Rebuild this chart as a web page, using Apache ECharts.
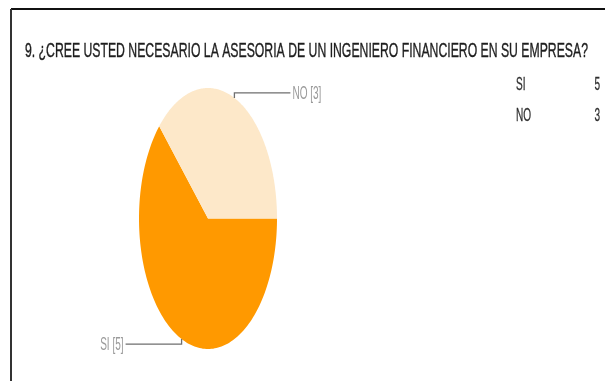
<!DOCTYPE html>
<html>
<head>
<meta charset="utf-8">
<script src="https://cdn.jsdelivr.net/npm/echarts@6/dist/echarts.min.js"></script>
<style>
  html, body { margin: 0; padding: 0; background: #ffffff; }
  #chart { width: 605px; height: 381px; }
</style>
</head>
<body>
<div id="chart"></div>
<script>
// Survey question and answers
const titleText = '9. ¿CREE USTED NECESARIO LA ASESORIA DE UN INGENIERO FINANCIERO EN SU EMPRESA?';
const categories = ['SI', 'NO'];
const counts = [5, 3];
const sliceColors = ['#ff9900', '#fde8c9'];

const chart = echarts.init(document.getElementById('chart'), null, { renderer: 'canvas' });

// Narrow lettering: measure the text and squeeze it horizontally to a width
const measureCtx = document.createElement('canvas').getContext('2d');
function squeeze(text, font, width) {
  measureCtx.font = font;
  return width / measureCtx.measureText(text).width;
}

const FONT_TITLE = '21px "Liberation Sans", Arial, sans-serif';
const FONT_TABLE = '19px "Liberation Sans", Arial, sans-serif';
const FONT_LABEL = '18px "Liberation Sans", Arial, sans-serif';
const NARROW_TABLE = squeeze('SI', FONT_TABLE, 9.5);
const NARROW_LABEL = squeeze('NO [3]', FONT_LABEL, 29);

// Slice angles: start at 3 o'clock and run clockwise
const total = counts.reduce((a, b) => a + b, 0);
const sliceData = [];
let angle = 0;
categories.forEach((name, i) => {
  const sweep = counts[i] / total * Math.PI * 2;
  sliceData.push([i, angle, angle - sweep]);
  angle -= sweep;
});

function renderSlice(params, api) {
  const i = api.value(0);
  const a0 = api.value(1);
  const a1 = api.value(2);
  const pts = [api.coord([0, 0])];
  const steps = 160;
  for (let k = 0; k <= steps; k++) {
    const t = a0 + (a1 - a0) * k / steps;
    pts.push(api.coord([Math.cos(t), Math.sin(t)]));
  }
  // leader line from the middle of the slice edge
  const m = (a0 + a1) / 2;
  const p0 = api.coord([Math.cos(m), Math.sin(m)]);
  const side = Math.cos(m) >= 0 ? 1 : -1;
  const vert = Math.sin(m) >= 0 ? -1 : 1;
  const p1 = [p0[0], p0[1] + vert * 5];
  const p2 = [p1[0] + side * 56, p1[1]];
  const label = categories[i] + ' [' + counts[i] + ']';
  return {
    type: 'group',
    children: [
      {
        type: 'polygon',
        shape: { points: pts },
        style: { fill: sliceColors[i], stroke: null }
      },
      {
        type: 'polyline',
        shape: { points: [p0, p1, p2] },
        style: { stroke: '#6f6f6f', lineWidth: 1.3, fill: null }
      },
      {
        type: 'text',
        x: p2[0] + side * 2,
        y: p2[1] + 1,
        scaleX: NARROW_LABEL,
        style: {
          text: label,
          font: FONT_LABEL,
          fill: '#9a9a9a',
          align: side > 0 ? 'left' : 'right',
          verticalAlign: 'middle'
        }
      }
    ]
  };
}

// Answer table on the right
const tableGraphics = [];
categories.forEach((name, i) => {
  const y = 85 + i * 31;
  tableGraphics.push({
    type: 'text', x: 516, y: y, scaleX: NARROW_TABLE,
    style: { text: name, font: FONT_TABLE, fill: '#2e2e2e', stroke: '#2e2e2e', lineWidth: 0.3, align: 'left', verticalAlign: 'middle' }
  });
  tableGraphics.push({
    type: 'text', x: 600, y: y, scaleX: NARROW_TABLE,
    style: { text: String(counts[i]), font: FONT_TABLE, fill: '#2e2e2e', stroke: '#2e2e2e', lineWidth: 0.3, align: 'right', verticalAlign: 'middle' }
  });
});

const option = {
  backgroundColor: '#ffffff',
  animation: false,
  grid: { left: 139, top: 88, width: 138, height: 261 },
  xAxis: { type: 'value', min: -1, max: 1, show: false },
  yAxis: { type: 'value', min: -1, max: 1, show: false },
  graphic: [
    // frame edges
    { type: 'line', shape: { x1: 11, y1: 9, x2: 605, y2: 9 }, style: { stroke: '#111111', lineWidth: 2 } },
    { type: 'line', shape: { x1: 11, y1: 9, x2: 11, y2: 381 }, style: { stroke: '#333333', lineWidth: 2 } },
    {
      type: 'text', x: 25, y: 51,
      scaleX: squeeze(titleText, FONT_TITLE, 563),
      style: { text: titleText, font: FONT_TITLE, fill: '#1e1e1e', stroke: '#1e1e1e', lineWidth: 0.4, align: 'left', verticalAlign: 'middle' }
    }
  ].concat(tableGraphics),
  series: [{
    type: 'custom',
    coordinateSystem: 'cartesian2d',
    clip: false,
    renderItem: renderSlice,
    data: sliceData
  }]
};

chart.setOption(option);
</script>
</body>
</html>
